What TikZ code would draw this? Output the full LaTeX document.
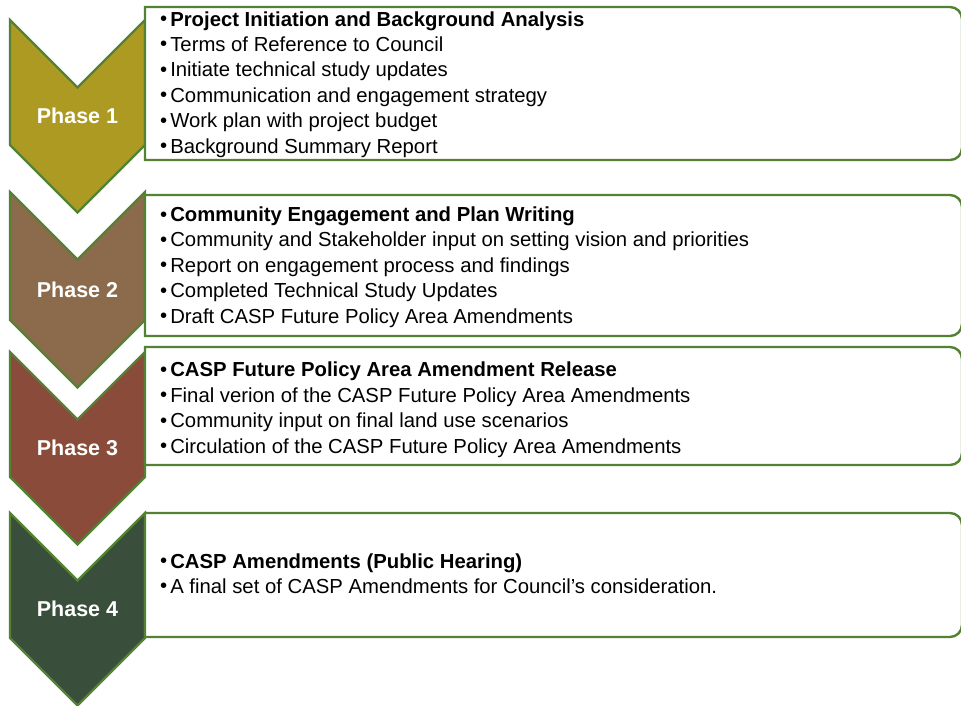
\documentclass[tikz,border=0pt]{standalone}
\usepackage{fontspec}
\setmainfont{Liberation Sans}
\definecolor{framegreen}{HTML}{548235}
\definecolor{phaseone}{HTML}{AD9A23}
\definecolor{phasetwo}{HTML}{8B6B4B}
\definecolor{phasethree}{HTML}{8A4B3A}
\definecolor{phasefour}{HTML}{3A4F3B}
\tikzset{
  chevron/.style={draw=framegreen, line width=2.4pt, line join=miter},
  phasebox/.style={draw=framegreen, line width=2.4pt, fill=white},
  phaselabel/.style={text=white, inner sep=0pt, font=\bfseries\fontsize{21.5}{25}\selectfont},
  item/.style={anchor=base west, inner sep=0pt, font=\fontsize{20.3}{24}\selectfont},
}
\newcommand{\itembullet}{\raisebox{0.5pt}{•}\hspace{3pt}}
\begin{document}
\begin{tikzpicture}[x=1pt,y=-1pt]
    \useasboundingbox (0,0) rectangle (961,705);

    % chevrons on the left: top corners, bottom corners, colour
    \foreach \ytop/\ybot/\col [count=\i] in
        {20/145/phaseone, 192/320/phasetwo, 352/477/phasethree, 513/638/phasefour}{
      \draw[chevron, fill=\col] (10,\ytop) -- (77.5,\ytop+67.5) -- (145,\ytop)
          -- (145,\ybot) -- (77.5,\ybot+67.5) -- (10,\ybot) -- cycle;
      \node[phaselabel] (phase\i) at (77.5,{(\ytop+67.5+\ybot)/2}) {Phase \i};
    }

    % text boxes, square on the left, rounded on the right
    \foreach \ytop/\ybot [count=\i] in {7/160, 195/336, 347/465, 513/637}{
      \draw[phasebox] (145,\ybot) -- (145,\ytop) [rounded corners=12pt]
          -- (962,\ytop) -- (962,\ybot) [sharp corners] -- cycle;
    }

    % bullet lines of each box
    \foreach \txt [count=\j] in {\textbf{Project Initiation and Background Analysis},
        Terms of Reference to Council, Initiate technical study updates,
        Communication and engagement strategy, Work plan with project budget,
        Background Summary Report}{
      \node[item] (one-\j) at (160,26+25.4*\j-25.4) {\itembullet\txt};
    }
    \foreach \txt [count=\j] in {\textbf{Community Engagement and Plan Writing},
        Community and Stakeholder input on setting vision and priorities,
        Report on engagement process and findings,
        Completed Technical Study Updates,
        Draft CASP Future Policy Area Amendments}{
      \node[item] (two-\j) at (160,221.5+25.4*\j-25.4) {\itembullet\txt};
    }
    \foreach \txt [count=\j] in {\textbf{CASP Future Policy Area Amendment Release},
        Final verion of the CASP Future Policy Area Amendments,
        Community input on final land use scenarios,
        Circulation of the CASP Future Policy Area Amendments}{
      \node[item] (three-\j) at (160,376.8+25.4*\j-25.4) {\itembullet\txt};
    }
    \foreach \txt [count=\j] in {\textbf{CASP Amendments (Public Hearing)},
        A final set of CASP Amendments for Council's consideration.}{
      \node[item] (four-\j) at (160,568+25.2*\j-25.2) {\itembullet\txt};
    }
\end{tikzpicture}
\end{document}
